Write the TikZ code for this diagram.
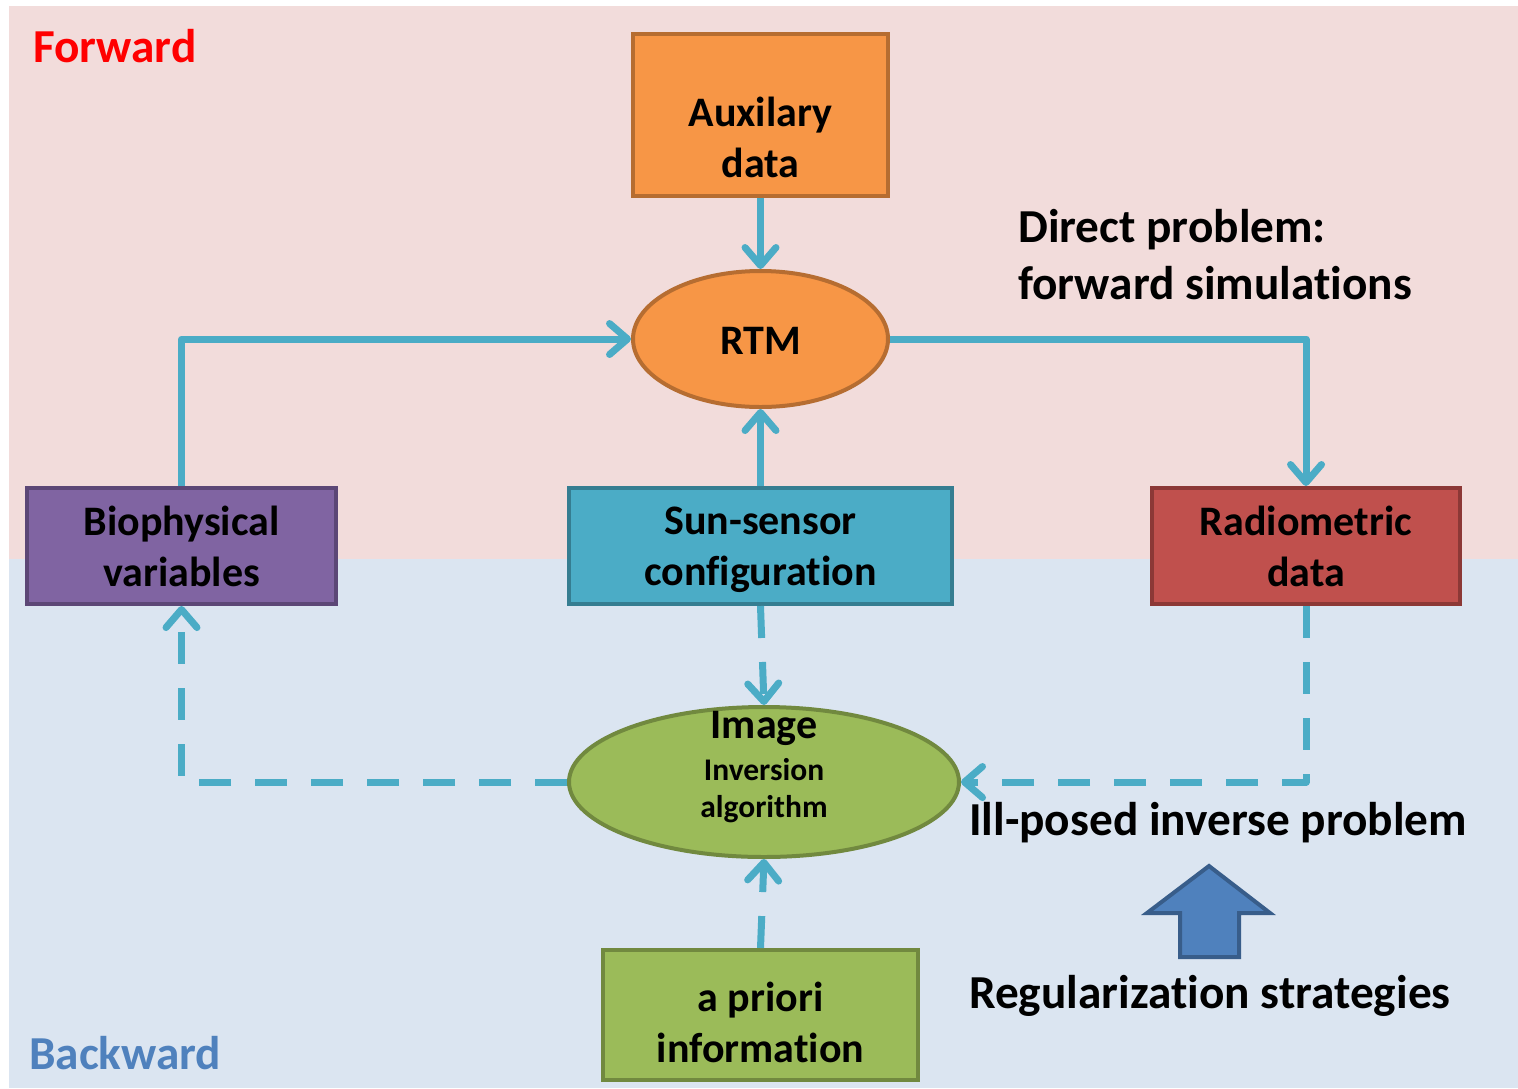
\documentclass[tikz,border=0pt]{standalone}
\usepackage{fontspec}
\setmainfont{Carlito}[RawFeature=-liga]
\usetikzlibrary{arrows.meta, shapes.geometric}

\definecolor{pinkbg}{HTML}{F2DCDB}
\definecolor{bluebg}{HTML}{DBE5F1}
\definecolor{lineblue}{HTML}{4BACC6}
\definecolor{orangeF}{HTML}{F79646}
\definecolor{orangeD}{HTML}{B66D31}
\definecolor{purpleF}{HTML}{8064A2}
\definecolor{purpleD}{HTML}{5C4776}
\definecolor{aquaF}{HTML}{4BACC6}
\definecolor{aquaD}{HTML}{357D91}
\definecolor{redF}{HTML}{C0504D}
\definecolor{redD}{HTML}{8C3836}
\definecolor{greenF}{HTML}{9BBB59}
\definecolor{greenD}{HTML}{71893F}
\definecolor{blueF}{HTML}{4F81BD}
\definecolor{blueD}{HTML}{385D8A}
\definecolor{fwdred}{HTML}{FF0000}

\tikzset{
  box/.style={rectangle, line width=4pt, inner sep=0pt},
  oval/.style={ellipse, line width=4pt, inner sep=0pt},
  boxtext/.style={font=\bfseries\fontsize{42}{51}\selectfont, align=center, inner sep=0pt},
  label46/.style={font=\bfseries\fontsize{47.3}{57}\selectfont, inner sep=0pt},
  conn/.style={draw=lineblue, line width=7pt, line join=round,
    -{Straight Barb[round, length=18pt, width=31pt]}},
  dashconn/.style={conn, dash pattern=on 32pt off 24pt},
}

\begin{document}
\begin{tikzpicture}[x=1pt, y=-1pt]
  % page and the two halves of the background
  \useasboundingbox (0,0) rectangle (1518,1088);
  \fill[white] (0,0) rectangle (1518,1088);
  \fill[pinkbg] (9,6) rectangle (1518,559);
  \fill[bluebg] (9,559) rectangle (1518,1088);

  % section titles
  \node[label46, text=fwdred, anchor=base west] (fwd) at (33,62) {Forward};
  \node[label46, text=blueF, anchor=base west] (bwd) at (29,1069) {Backward};

  % blocks
  \node[box, fill=orangeF, draw=orangeD, minimum width=255pt, minimum height=162pt] (aux) at (760.5,115) {};
  \node[boxtext] (auxt) at (760.5,137) {Auxilary\\data};

  \node[oval, fill=orangeF, draw=orangeD,
        minimum width=255pt, minimum height=136pt] (rtm) at (760.5,339) {};
  \node[boxtext, anchor=base] (rtmt) at (760.5,354) {RTM};

  \node[box, fill=purpleF, draw=purpleD, minimum width=309pt, minimum height=116pt] (bio) at (181.5,546) {};
  \node[boxtext] (biot) at (181.5,546) {Biophysical\\variables};

  \node[box, fill=aquaF, draw=aquaD, minimum width=383pt, minimum height=116pt] (sun) at (760.5,546) {};
  \node[boxtext] (sunt) at (760.5,550) {Sun-sensor\\configuration};

  \node[box, fill=redF, draw=redD, minimum width=308pt, minimum height=116pt] (rad) at (1306,546) {};
  \node[boxtext] (radt) at (1306,546) {Radiometric\\data};

  \node[oval, fill=greenF, draw=greenD,
        minimum width=390pt, minimum height=150pt] (img) at (764,782) {};
  \node[boxtext, anchor=base] (imgt1) at (764,738) {Image};
  \node[font=\bfseries\fontsize{31.5}{38}\selectfont, inner sep=0pt, anchor=base] (imgt2) at (764,780) {Inversion};
  \node[font=\bfseries\fontsize{31.5}{38}\selectfont, inner sep=0pt, anchor=base] (imgt3) at (764,817) {algorithm};

  \node[box, fill=greenF, draw=greenD, minimum width=315pt, minimum height=130pt] (apr) at (760.5,1015) {};
  \node[boxtext] (aprt) at (760.5,1022) {a priori\\information};

  % side notes
  \node[label46, anchor=base west] (dir1) at (1018,242) {Direct problem:};
  \node[label46, anchor=base west] (dir2) at (1018,299) {forward simulations};
  \node[label46, anchor=base west] (ill) at (969,835) {Ill-posed inverse problem};
  \node[label46, anchor=base west] (reg) at (969,1008) {Regularization strategies};

  % block arrow pointing up at the inverse problem
  \draw[fill=blueF, draw=blueD, line width=4pt, line join=miter]
    (1209,866) -- (1270,913) -- (1239,913) -- (1239,957) -- (1180,957)
    -- (1180,913) -- (1147,913) -- cycle;

  % forward connectors
  \draw[conn] (aux.south) -- (rtm.north);
  \draw[conn] (bio.north) |- (rtm.west);
  \draw[conn] (sun.north) -- (rtm.south);
  \draw[conn] (rtm.east) -| (rad.north);

  % backward connectors
  \draw[dashconn] (sun.south) -- (img.north);
  \draw[dashconn] (apr.north) -- (img.south);
  \draw[dashconn] (rad.south) |- (img.east);
  \draw[dashconn] (img.west) -| (bio.south);
\end{tikzpicture}
\end{document}
